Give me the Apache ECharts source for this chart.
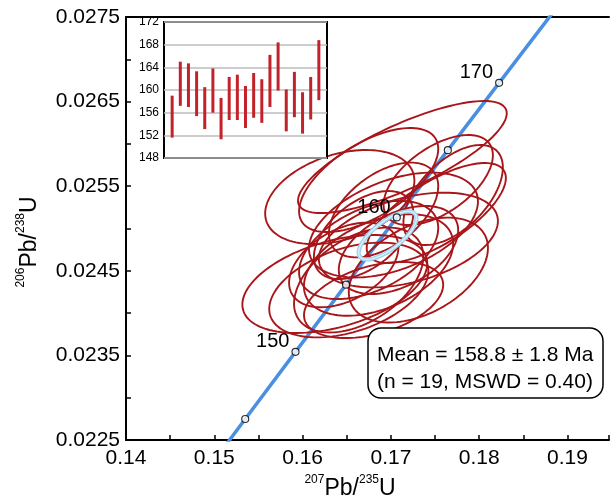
<!DOCTYPE html>
<html><head><meta charset="utf-8">
<script src="https://cdn.jsdelivr.net/npm/echarts@6/dist/echarts.min.js"></script>
<style>html,body{margin:0;padding:0;background:#fff}#c{width:612px;height:500px}</style>
</head><body><div id="c"></div>
<script>
// Concordia reference points (age in Ma, 207Pb/235U, 206Pb/238U)
var concAge = [140, 145, 150, 155, 160, 165, 170, 175, 180];
var concX = [0.147837, 0.153502, 0.159197, 0.164919, 0.170670, 0.176449, 0.182256, 0.188092, 0.193958];
var concY = [0.021955, 0.022748, 0.023542, 0.024336, 0.025131, 0.025926, 0.026722, 0.027519, 0.028316];
var dotAges = [145, 150, 155, 160, 165, 170];
var labelAges = [150, 160, 170];

// Error ellipses: centre, half-extent in x and y, correlation
var ellCx  = [0.16421, 0.16365, 0.17130, 0.17514, 0.17536, 0.17029, 0.16748, 0.16860, 0.16635, 0.16523, 0.17086, 0.17198, 0.16917, 0.16691, 0.17311, 0.16466, 0.16748, 0.16804, 0.17705];
var ellCy  = [0.025372, 0.024344, 0.025845, 0.025183, 0.025573, 0.025041, 0.024746, 0.024569, 0.024391, 0.024273, 0.024746, 0.024864, 0.025219, 0.024923, 0.024509, 0.024569, 0.025573, 0.024155, 0.025396];
var ellSx  = [0.00845, 0.01047, 0.01182, 0.00788, 0.00619, 0.00957, 0.00788, 0.00845, 0.00732, 0.00901, 0.00676, 0.01014, 0.00619, 0.00563, 0.00788, 0.00619, 0.00788, 0.00788, 0.00563];
var ellSy  = [0.000556, 0.000579, 0.000662, 0.000591, 0.000532, 0.000620, 0.000580, 0.000600, 0.000620, 0.000560, 0.000520, 0.000560, 0.000560, 0.000520, 0.000620, 0.000500, 0.000615, 0.000450, 0.000591];
var ellRho = [0.35, 0.42, 0.78, 0.70, 0.55, 0.45, 0.45, 0.42, 0.45, 0.40, 0.45, 0.40, 0.50, 0.50, 0.42, 0.42, 0.60, 0.40, 0.55];

// Concordia (mean) ellipse
var meanEll = [0.16962, 0.024918, 0.00327, 0.000284, 0.72];

// Inset: individual 206Pb/238U ages (low / high of error bar)
var ageIdx  = [1,2,3,4,5,6,7,8,9,10,11,12,13,14,15,16,17,18,19];
var ageLow  = [151.6, 157.2, 157.0, 155.4, 153.1, 156.0, 151.3, 154.7, 154.7, 153.3, 155.1, 154.2, 157.0, 159.9, 152.7, 155.2, 152.3, 154.8, 158.2];
var ageHigh = [159.0, 165.0, 164.7, 163.3, 160.5, 163.8, 158.6, 162.3, 162.7, 160.7, 163.0, 161.9, 166.2, 168.4, 160.1, 163.2, 159.6, 162.3, 168.8];
var meanAge = 158.8;
var insetTicks = [148, 152, 156, 160, 164, 168, 172];

var FONT = '"Liberation Sans", Arial, sans-serif';

var ellData = ellCx.map(function (v, i) { return [v, ellCy[i], ellSx[i], ellSy[i], ellRho[i]]; });
var concData = concX.map(function (v, i) { return [v, concY[i], concAge[i]]; });
var dotData = concData.filter(function (d) { return dotAges.indexOf(d[2]) >= 0; });
var barData = ageIdx.map(function (v, i) { return [v, ageLow[i], ageHigh[i]]; });

function ellipsePts(api) {
  var cx = api.value(0), cy = api.value(1), sx = api.value(2), sy = api.value(3), r = api.value(4);
  var q = Math.sqrt(1 - r * r), pts = [];
  for (var k = 0; k < 120; k++) {
    var t = k / 120 * Math.PI * 2;
    pts.push(api.coord([cx + sx * Math.cos(t), cy + sy * (r * Math.cos(t) + q * Math.sin(t))]));
  }
  return pts;
}
function ellipseRender(color, width) {
  return function (params, api) {
    return { type: 'polygon', shape: { points: ellipsePts(api) }, style: { fill: 'none', stroke: color, lineWidth: width } };
  };
}
function meanRender(params, api) {
  var pts = ellipsePts(api);
  return { type: 'group', children: [
    { type: 'polygon', shape: { points: pts }, style: { fill: 'none', stroke: '#9fd3ee', lineWidth: 4.2 } },
    { type: 'polygon', shape: { points: pts }, style: { fill: 'none', stroke: '#d9f0fb', lineWidth: 1.4 } }
  ] };
}

var chart = echarts.init(document.getElementById('c'), null, { renderer: 'canvas' });
chart.setOption({
  animation: false,
  backgroundColor: '#fff',
  textStyle: { fontFamily: FONT, color: '#000' },
  grid: [
    { left: 126, top: 17, right: 0, bottom: 60 },
    { left: 164, top: 22, width: 163, height: 136, show: true, backgroundColor: '#fff', borderColor: '#000', borderWidth: 2, z: 10 }
  ],
  xAxis: [
    { type: 'value', gridIndex: 0, min: 0.14, max: 0.1947, interval: 0.005,
      axisLine: { lineStyle: { color: '#000', width: 2 } },
      axisTick: { inside: true, length: 5, lineStyle: { color: '#000', width: 1.5 } },
      splitLine: { show: false },
      axisLabel: { color: '#000', fontSize: 21, fontFamily: FONT, margin: 8,
        formatter: function (v) { return Math.round(v * 1000) % 10 === 0 ? v.toFixed(2) : ''; } } },
    { type: 'value', gridIndex: 0, position: 'top', min: 0.14, max: 0.1947,
      axisLine: { show: true, lineStyle: { color: '#000', width: 2 } },
      axisTick: { show: false }, axisLabel: { show: false }, splitLine: { show: false } },
    { type: 'value', gridIndex: 1, min: 0, max: 20, show: false }
  ],
  yAxis: [
    { type: 'value', gridIndex: 0, min: 0.0225, max: 0.0275, interval: 0.0005,
      axisLine: { show: true, lineStyle: { color: '#000', width: 2 } },
      axisTick: { inside: true, length: 5, lineStyle: { color: '#000', width: 1.5 } },
      splitLine: { show: false },
      axisLabel: { color: '#000', fontSize: 21, fontFamily: FONT, margin: 6,
        formatter: function (v) { return Math.round(v * 10000) % 10 === 5 ? v.toFixed(4) : ''; } } },
    { type: 'value', gridIndex: 1, min: insetTicks[0], max: insetTicks[insetTicks.length - 1], interval: 4, z: 10,
      axisLine: { show: false }, axisTick: { show: false },
      splitLine: { show: true, lineStyle: { color: '#bdbdbd', width: 1.5 } },
      axisLabel: { color: '#000', fontSize: 12, fontFamily: FONT, margin: 5, padding: [6, 0, 0, 0] } }
  ],
  series: [
    { type: 'line', xAxisIndex: 0, yAxisIndex: 0, data: concData, showSymbol: false, smooth: false,
      lineStyle: { color: '#4a8fe0', width: 3.5 }, z: 2, clip: true },
    { type: 'custom', xAxisIndex: 0, yAxisIndex: 0, data: ellData, renderItem: ellipseRender('#a8161a', 1.9), z: 3, clip: true },
    { type: 'custom', xAxisIndex: 0, yAxisIndex: 0, data: [meanEll], renderItem: meanRender, z: 4 },
    { type: 'scatter', xAxisIndex: 0, yAxisIndex: 0, data: dotData, symbol: 'circle', symbolSize: 7, z: 5,
      itemStyle: { color: '#fff', borderColor: '#000', borderWidth: 1.2 },
      label: { show: true, position: 'left', distance: 2, offset: [0, -10], color: '#000', fontSize: 20, fontFamily: FONT,
        textBorderWidth: 0, opacity: 1,
        formatter: function (p) { return labelAges.indexOf(p.value[2]) >= 0 ? String(p.value[2]) : ''; } } },
    { type: 'custom', xAxisIndex: 2, yAxisIndex: 1, data: barData, z: 11,
      renderItem: function (params, api) {
        var lo = api.coord([api.value(0), api.value(1)]), hi = api.coord([api.value(0), api.value(2)]);
        return { type: 'rect', shape: { x: lo[0] - 1.5, y: hi[1], width: 3, height: lo[1] - hi[1] }, style: { fill: '#c4222b' } };
      },
      markLine: { silent: true, symbol: 'none', label: { show: false }, animation: false,
        lineStyle: { color: '#3c8a2e', width: 1.5, type: 'solid' }, data: [{ yAxis: meanAge }] } }
  ],
  graphic: [
    { type: 'text', x: 28, y: 242, rotation: Math.PI / 2, z: 20,
      style: { text: '{s|206}{m|Pb/}{s|238}{m|U}', align: 'center', verticalAlign: 'middle', fill: '#000',
        rich: { m: { fontSize: 23, fontFamily: FONT, lineHeight: 26, verticalAlign: 'bottom' },
                s: { fontSize: 12, fontFamily: FONT, lineHeight: 26, verticalAlign: 'top' } } } },
    { type: 'text', x: 350, y: 487, z: 20,
      style: { text: '{s|207}{m|Pb/}{s|235}{m|U}', align: 'center', verticalAlign: 'middle', fill: '#000',
        rich: { m: { fontSize: 23, fontFamily: FONT, lineHeight: 26, verticalAlign: 'bottom' },
                s: { fontSize: 12, fontFamily: FONT, lineHeight: 26, verticalAlign: 'top' } } } },
    { type: 'rect', z: 20, shape: { x: 368, y: 328, width: 235, height: 70, r: 13 },
      style: { fill: '#fff', stroke: '#000', lineWidth: 1.5 } },
    { type: 'text', z: 21, x: 377, y: 355,
      style: { text: 'Mean = 158.8 \u00b1 1.8 Ma', fontSize: 21, fontFamily: FONT, fill: '#000', verticalAlign: 'middle' } },
    { type: 'text', z: 21, x: 377, y: 382,
      style: { text: '(n = 19, MSWD = 0.40)', fontSize: 21, fontFamily: FONT, fill: '#000', verticalAlign: 'middle' } }
  ]
});
</script></body></html>
